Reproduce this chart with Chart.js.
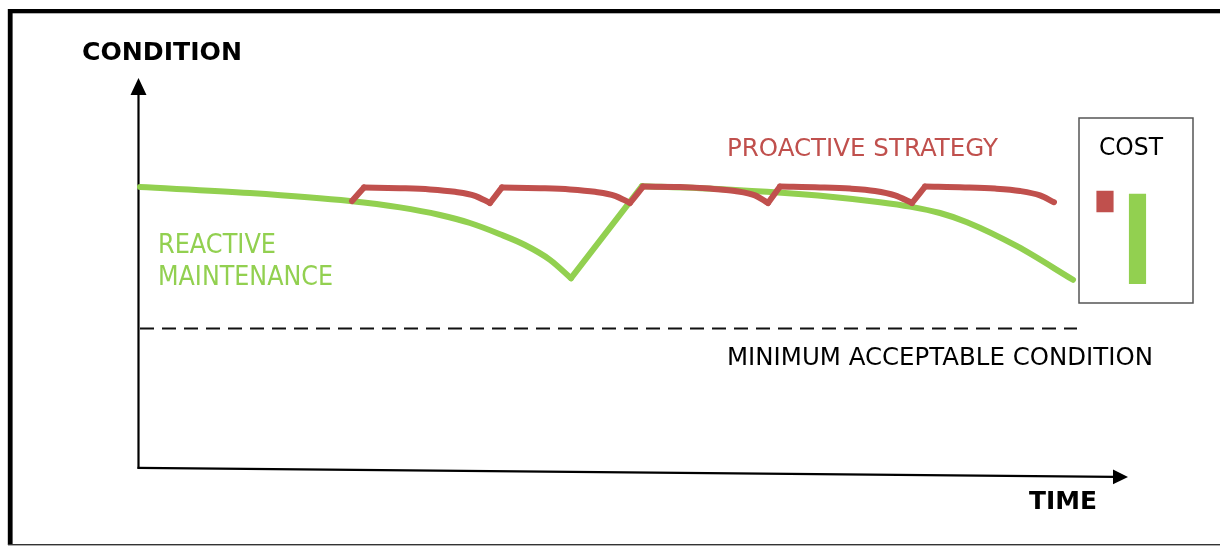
<!DOCTYPE html>
<html>
<head>
<meta charset="utf-8">
<script src="https://cdn.jsdelivr.net/npm/chart.js@4/dist/chart.umd.min.js"></script>
<style>
  html, body { margin: 0; padding: 0; background: #fff; }
  #wrap { position: relative; width: 1220px; height: 546px; overflow: hidden; }
  #main { position: absolute; left: 0; top: 0; }
  #cost { position: absolute; left: 1078px; top: 117px; }
</style>
</head>
<body>
<div id="wrap">
  <canvas id="main" width="1220" height="546"></canvas>
  <canvas id="cost" width="116" height="187"></canvas>
</div>
<script>
// Condition over time (time 0-100, condition 0-100)
const reactiveTime      = [0.2, 11.2, 21.2, 26.2, 30.2, 33.2, 36.2, 38.7, 41.2, 43.3, 50.4, 56.2, 62.9, 69.5, 74.2, 77.2, 80.2, 82.9, 87.9, 93.5];
const reactiveCondition = [70.0, 68.5, 66.5, 64.9, 63.0, 61.0, 58.2, 55.5, 51.8, 47.2, 70.2, 69.7, 68.8, 67.5, 66.2, 65.1, 63.5, 61.2, 55.2, 46.8];
// indices where the reactive curve turns sharply (failure, then repair)
const reactiveCorners   = [9, 10];

const proactiveTime      = [21.4, 22.6, 26.2, 29.2, 31.7, 33.7, 35.2, 36.4, 40.2, 43.2, 45.7, 47.7, 49.2, 50.5, 54.2, 57.2, 59.7, 61.7, 63.0, 64.2, 68.2, 71.2, 73.7, 75.7, 77.4, 78.7, 82.7, 85.7, 88.2, 90.2, 91.6];
const proactiveCondition = [66.5, 69.9, 69.7, 69.4, 68.8, 67.8, 66.0, 69.9, 69.7, 69.4, 68.8, 67.8, 66.0, 70.1, 70.0, 69.6, 69.0, 67.9, 66.0, 70.1, 69.9, 69.6, 69.0, 67.9, 66.0, 70.1, 69.9, 69.6, 69.0, 67.9, 66.2];
// indices of the maintenance interventions (sharp turns)
const proactiveCorners   = [1, 6, 7, 12, 13, 18, 19, 24, 25];

const minimumCondition = 34.6;
const minimumSpan      = [0.2, 93.9];

// Cost comparison (floating bars)
const costLabels = ['PROACTIVE', 'REACTIVE'];
const costLow    = [72, 0];
const costHigh   = [93, 90];

const RED   = '#C0504D';
const GREEN = '#92D050';

// split a series into pieces at its sharp turns; each piece is smoothed on its own
function pieces(time, cond, corners) {
  const cuts = [0, ...corners, time.length - 1];
  const out = [];
  for (let i = 0; i < cuts.length - 1; i++) {
    const pts = [];
    for (let k = cuts[i]; k <= cuts[i + 1]; k++) pts.push({ x: time[k], y: cond[k] });
    out.push(pts);
  }
  return out;
}

const lineStyle = (color, order) => ({
  borderColor: color,
  borderWidth: 6,
  pointRadius: 0,
  cubicInterpolationMode: 'monotone',
  borderCapStyle: 'round',
  borderJoinStyle: 'round',
  fill: false,
  order: order,
  clip: false
});

const datasets = [];
pieces(proactiveTime, proactiveCondition, proactiveCorners).forEach(p =>
  datasets.push(Object.assign({ label: 'Proactive strategy', data: p }, lineStyle(RED, 0))));
pieces(reactiveTime, reactiveCondition, reactiveCorners).forEach(p =>
  datasets.push(Object.assign({ label: 'Reactive maintenance', data: p }, lineStyle(GREEN, 1))));
datasets.push({
  label: 'Minimum acceptable condition',
  data: minimumSpan.map(t => ({ x: t, y: minimumCondition })),
  borderColor: '#111',
  borderWidth: 2,
  borderDash: [14, 8],
  pointRadius: 0,
  tension: 0,
  fill: false,
  order: 2,
  clip: false
});

function fitText(ctx, str, left, baseline, width, font, color) {
  ctx.save();
  ctx.font = font;
  ctx.textAlign = 'left';
  ctx.textBaseline = 'alphabetic';
  const w = ctx.measureText(str).width;
  ctx.translate(left, baseline);
  ctx.scale(width / w, 1);
  ctx.fillStyle = color;
  ctx.fillText(str, 0, 0);
  ctx.restore();
}

const frameAndAxes = {
  id: 'frameAndAxes',
  beforeDatasetsDraw(chart) {
    const { ctx, scales: { x, y } } = chart;
    ctx.save();
    // outer frame
    ctx.fillStyle = '#000';
    ctx.fillRect(8, 9, 1212, 4.3);
    ctx.fillRect(7.8, 9, 4.8, 536);
    ctx.fillStyle = '#333';
    ctx.fillRect(8, 544, 1212, 1.4);

    // condition axis
    const ax = x.getPixelForValue(0);
    const ay = y.getPixelForValue(-0.2);
    const topTip = y.getPixelForValue(97.25);
    ctx.strokeStyle = '#000';
    ctx.lineWidth = 2.2;
    ctx.beginPath();
    ctx.moveTo(ax + 0.5, ay + 1);
    ctx.lineTo(ax + 0.5, topTip + 10);
    ctx.stroke();
    ctx.fillStyle = '#000';
    ctx.beginPath();
    ctx.moveTo(ax + 0.5, topTip);
    ctx.lineTo(ax - 7.5, topTip + 17);
    ctx.lineTo(ax + 8.5, topTip + 17);
    ctx.closePath();
    ctx.fill();

    // time axis (slightly sloped)
    const tipX = x.getPixelForValue(99.0);
    const tipY = y.getPixelForValue(-2.5);
    const baseX = tipX - 15;
    const baseY = ay + (tipY - ay) * (baseX - ax) / (tipX - ax);
    ctx.beginPath();
    ctx.moveTo(ax - 0.5, ay);
    ctx.lineTo(baseX + 2, baseY);
    ctx.stroke();
    ctx.beginPath();
    ctx.moveTo(tipX, tipY);
    ctx.lineTo(baseX, baseY - 7.3);
    ctx.lineTo(baseX, baseY + 7.3);
    ctx.closePath();
    ctx.fill();
    ctx.restore();
  },
  afterDraw(chart) {
    const ctx = chart.ctx;
    const bold = 'bold 25px "DejaVu Sans", Verdana, sans-serif';
    const reg = '25px "DejaVu Sans", Tahoma, sans-serif';
    const reg26 = '26px "DejaVu Sans", Tahoma, sans-serif';
    fitText(ctx, 'CONDITION', 82, 60, 160, bold, '#000');
    fitText(ctx, 'TIME', 1029, 509, 68, bold, '#000');
    fitText(ctx, 'PROACTIVE STRATEGY', 727, 156, 271, reg, RED);
    fitText(ctx, 'REACTIVE', 158, 253, 118, reg26, GREEN);
    fitText(ctx, 'MAINTENANCE', 158, 285, 175, reg26, GREEN);
    fitText(ctx, 'MINIMUM ACCEPTABLE CONDITION', 727, 365, 426, reg, '#000');
  }
};

new Chart(document.getElementById('main'), {
  type: 'line',
  data: { datasets },
  options: {
    responsive: false,
    animation: false,
    devicePixelRatio: 1,
    layout: { padding: { left: 138, right: 82, top: 67, bottom: 79 } },
    plugins: { legend: { display: false }, tooltip: { enabled: false }, title: { display: false } },
    scales: {
      x: { type: 'linear', min: 0, max: 100, display: false },
      y: { type: 'linear', min: 0, max: 100, display: false }
    }
  },
  plugins: [frameAndAxes]
});

const costFrame = {
  id: 'costFrame',
  beforeDraw(chart) {
    const ctx = chart.ctx;
    ctx.save();
    ctx.fillStyle = '#fff';
    ctx.fillRect(1, 1, 114, 185);
    ctx.strokeStyle = '#555';
    ctx.lineWidth = 1.5;
    ctx.strokeRect(1, 1, 114, 185);
    ctx.restore();
  },
  afterDraw(chart) {
    fitText(chart.ctx, 'COST', 1099 - 1078, 155 - 117, 64, '25px "DejaVu Sans", Tahoma, sans-serif', '#000');
  }
};

new Chart(document.getElementById('cost'), {
  type: 'bar',
  data: {
    labels: costLabels,
    datasets: [{
      data: costLabels.map((_, i) => [costLow[i], costHigh[i]]),
      backgroundColor: [RED, GREEN],
      borderWidth: 0,
      barThickness: 16.5
    }]
  },
  options: {
    responsive: false,
    animation: false,
    devicePixelRatio: 1,
    layout: { padding: { left: 10.75, right: 40.25, top: 67, bottom: 20 } },
    plugins: { legend: { display: false }, tooltip: { enabled: false } },
    scales: {
      x: { display: false, offset: true },
      y: { display: false, min: 0, max: 100 }
    }
  },
  plugins: [costFrame]
});
</script>
</body>
</html>
